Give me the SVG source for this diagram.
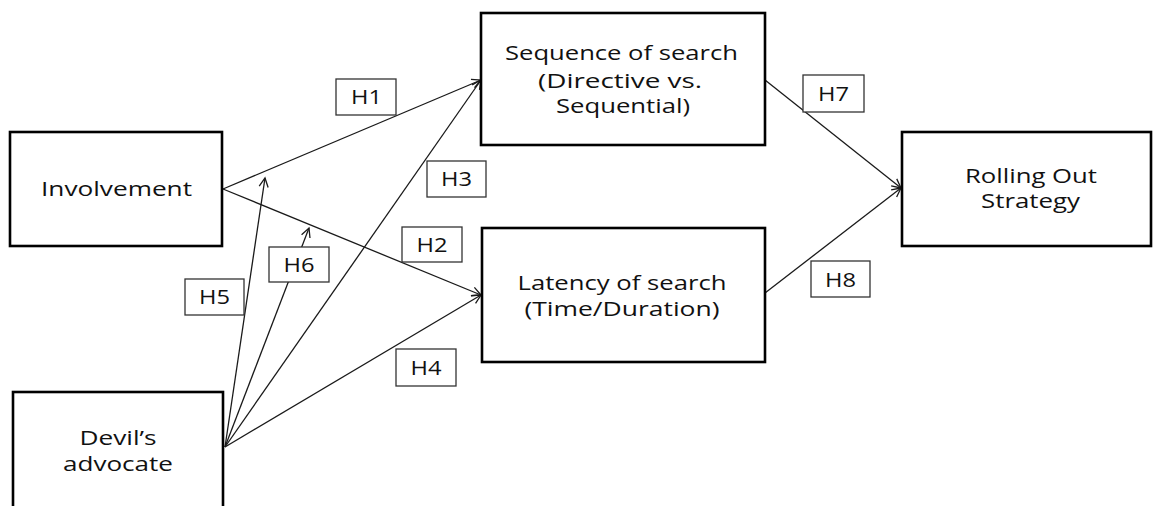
<svg xmlns="http://www.w3.org/2000/svg" width="1154" height="506" viewBox="0 0 1154 506">
  <style>
    .node { fill: #ffffff; stroke: #000000; stroke-width: 2.6; }
    .tag { fill: #ffffff; stroke: #333333; stroke-width: 1.3; }
    .txt { font-family: "Open Sans", "Noto Sans", "DejaVu Sans", sans-serif; font-size: 19.5px; fill: #111111; text-anchor: middle; }
    .edge { stroke: #1a1a1a; stroke-width: 1.3; fill: none; marker-end: url(#arrow); }
  </style>
  <defs>
    <marker id="arrow" markerUnits="userSpaceOnUse" markerWidth="12" markerHeight="12" viewBox="0 0 12 12" refX="10" refY="6" orient="auto">
      <path d="M1,1.5 L10,6 L1,10.5" fill="none" stroke="#1a1a1a" stroke-width="1.3"/>
    </marker>
  </defs>

  <!-- connectors -->
  <g id="connectors">
    <line class="edge" x1="223" y1="189" x2="481" y2="80"/>
    <line class="edge" x1="223" y1="189" x2="481" y2="295"/>
    <line class="edge" x1="225" y1="447" x2="481" y2="80"/>
    <line class="edge" x1="225" y1="447" x2="481" y2="295"/>
    <line class="edge" x1="225" y1="447" x2="265" y2="178"/>
    <line class="edge" x1="225" y1="447" x2="309" y2="228"/>
    <line class="edge" x1="765" y1="80" x2="901" y2="188"/>
    <line class="edge" x1="765" y1="293" x2="901" y2="188"/>
  </g>

  <!-- nodes -->
  <g id="involvement">
    <rect class="node" x="10" y="132" width="212" height="114"/>
    <text class="txt" x="116.5" y="196" textLength="151" lengthAdjust="spacingAndGlyphs">Involvement</text>
  </g>
  <g id="devils-advocate">
    <rect class="node" x="13" y="392" width="210" height="140"/>
    <text class="txt" x="118" y="445" textLength="77" lengthAdjust="spacingAndGlyphs">Devil’s</text>
    <text class="txt" x="118" y="471" textLength="110" lengthAdjust="spacingAndGlyphs">advocate</text>
  </g>
  <g id="sequence-of-search">
    <rect class="node" x="481" y="13" width="284" height="132"/>
    <text class="txt" x="621.5" y="60" textLength="233" lengthAdjust="spacingAndGlyphs">Sequence of search</text>
    <text class="txt" x="620" y="88" textLength="164" lengthAdjust="spacingAndGlyphs">(Directive vs.</text>
    <text class="txt" x="623" y="113" textLength="134" lengthAdjust="spacingAndGlyphs">Sequential)</text>
  </g>
  <g id="latency-of-search">
    <rect class="node" x="482" y="228" width="283" height="134"/>
    <text class="txt" x="622" y="290" textLength="209" lengthAdjust="spacingAndGlyphs">Latency of search</text>
    <text class="txt" x="622" y="316" textLength="195" lengthAdjust="spacingAndGlyphs">(Time/Duration)</text>
  </g>
  <g id="rolling-out-strategy">
    <rect class="node" x="902" y="132" width="249" height="114"/>
    <text class="txt" x="1031" y="183" textLength="132" lengthAdjust="spacingAndGlyphs">Rolling Out</text>
    <text class="txt" x="1030.5" y="208" textLength="99" lengthAdjust="spacingAndGlyphs">Strategy</text>
  </g>

  <!-- hypothesis labels -->
  <g id="h1"><rect class="tag" x="336" y="79" width="60" height="36"/><text class="txt" x="366.5" y="104" textLength="31" lengthAdjust="spacingAndGlyphs">H1</text></g>
  <g id="h2"><rect class="tag" x="402" y="227" width="60" height="35"/><text class="txt" x="432" y="252" textLength="31" lengthAdjust="spacingAndGlyphs">H2</text></g>
  <g id="h3"><rect class="tag" x="427" y="161" width="59" height="36"/><text class="txt" x="456.5" y="186" textLength="31" lengthAdjust="spacingAndGlyphs">H3</text></g>
  <g id="h4"><rect class="tag" x="396" y="349" width="60" height="37"/><text class="txt" x="426" y="375" textLength="31" lengthAdjust="spacingAndGlyphs">H4</text></g>
  <g id="h5"><rect class="tag" x="185" y="279" width="59" height="36"/><text class="txt" x="214.5" y="304" textLength="31" lengthAdjust="spacingAndGlyphs">H5</text></g>
  <g id="h6"><rect class="tag" x="269" y="247" width="60" height="35"/><text class="txt" x="299" y="272" textLength="31" lengthAdjust="spacingAndGlyphs">H6</text></g>
  <g id="h7"><rect class="tag" x="803" y="75" width="61" height="37"/><text class="txt" x="833.5" y="101" textLength="31" lengthAdjust="spacingAndGlyphs">H7</text></g>
  <g id="h8"><rect class="tag" x="811" y="261" width="59" height="36"/><text class="txt" x="840.5" y="287" textLength="31" lengthAdjust="spacingAndGlyphs">H8</text></g>
</svg>
